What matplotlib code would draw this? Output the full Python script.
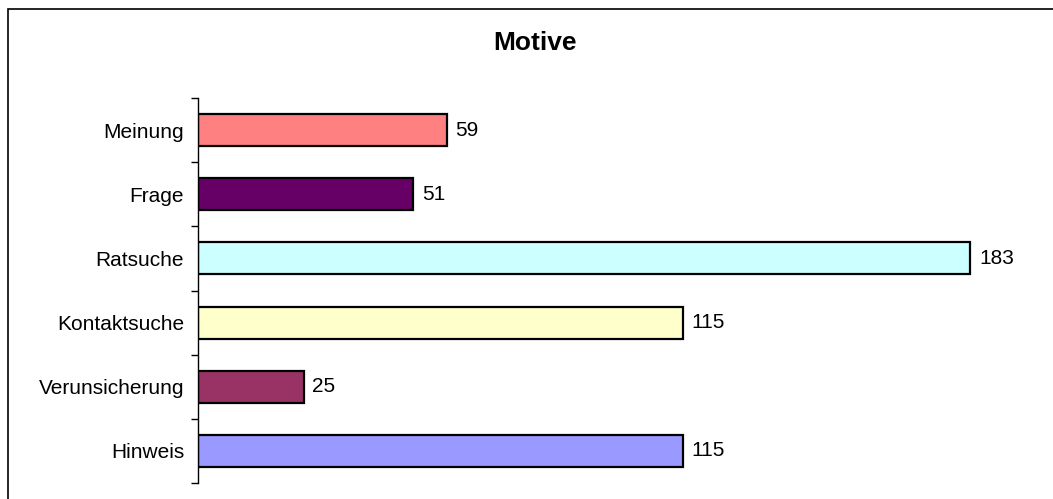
import matplotlib
matplotlib.use("Agg")
import matplotlib.pyplot as plt
from matplotlib.patches import Rectangle

plt.rcParams['font.family'] = ['Liberation Sans', 'DejaVu Sans']

categories = ["Meinung", "Frage", "Ratsuche", "Kontaktsuche", "Verunsicherung", "Hinweis"]
values = [59, 51, 183, 115, 25, 115]
colors = ["#FF8080", "#660066", "#CCFFFF", "#FFFFCC", "#993366", "#9999FF"]

W, H = 1053, 499
fig = plt.figure(figsize=(W / 100, H / 100), dpi=100)

# chart-area frame (runs off the right and bottom edges)
fig.patches.append(Rectangle((7.5 / W, -10 / H), (W + 10) / W, (H - 8.5 + 10) / H,
                             transform=fig.transFigure, fill=False,
                             edgecolor="black", linewidth=1.2))

ax = fig.add_axes([198 / W, 1 - 483 / H, (1000 - 198) / W, (483 - 98) / H])
n = len(categories)
ypos = list(range(n))
ax.barh(ypos, values, height=0.5, color=colors, edgecolor="black", linewidth=1.6)
ax.set_ylim(n - 0.5, -0.5)
ax.set_xlim(0, 190)

for y, v in zip(ypos, values):
    ax.text(v + 2, y, str(v), va="center", ha="left", fontsize=15)

ax.set_yticks([i - 0.5 for i in range(n + 1)], minor=False)
ax.set_yticklabels([])
ax.set_yticks(ypos, minor=True)
ax.set_yticklabels(categories, minor=True, fontsize=15)
ax.tick_params(axis="y", which="major", direction="out", length=5, width=1)
ax.tick_params(axis="y", which="minor", length=0, pad=10)
ax.set_xticks([])
for side in ("top", "right", "bottom"):
    ax.spines[side].set_visible(False)
ax.spines["left"].set_linewidth(1)

fig.text(535 / W, 1 - 43 / H, "Motive", ha="center", va="center",
         fontsize=19, fontweight="bold")

fig.savefig("out.png", dpi=100)
